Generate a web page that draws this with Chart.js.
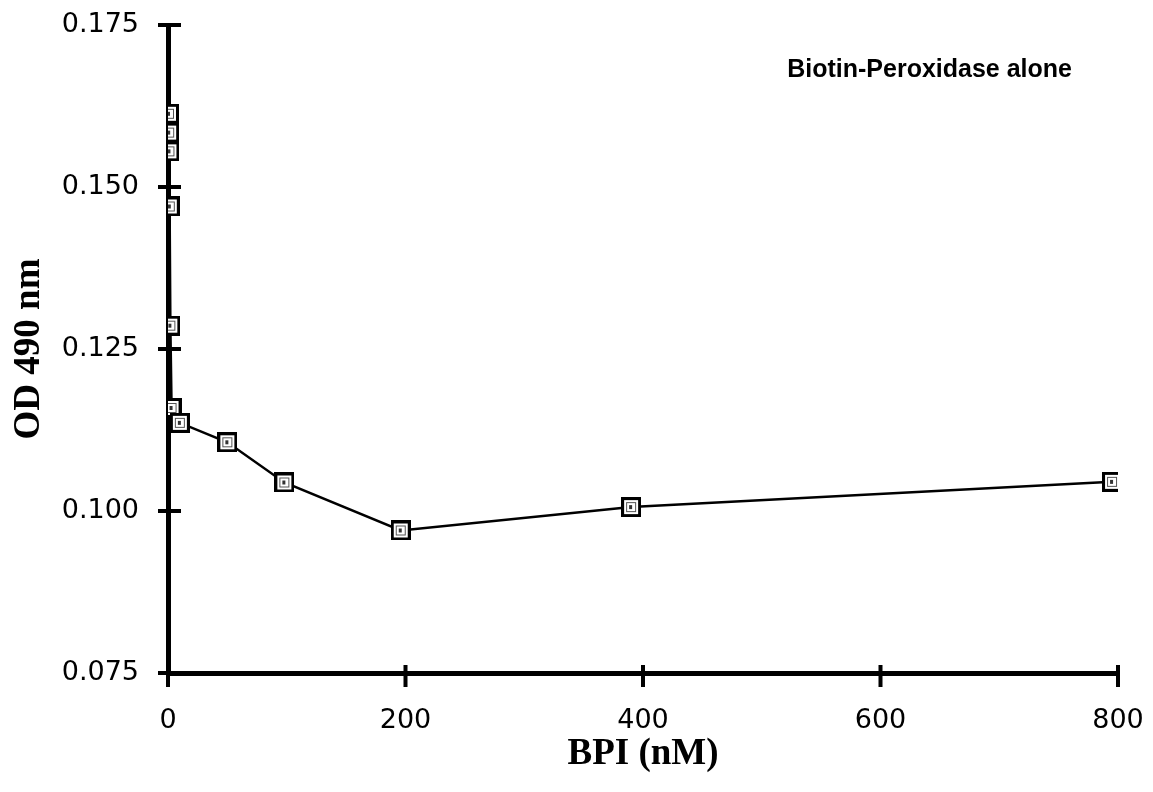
<!DOCTYPE html>
<html>
<head>
<meta charset="utf-8">
<title>BPI (nM) vs OD 490 nm</title>
<script src="https://cdn.jsdelivr.net/npm/chart.js@4.4.1/dist/chart.umd.min.js"></script>
<style>
  html, body { margin: 0; padding: 0; background: #fff; }
  #wrap { width: 1153px; height: 792px; }
</style>
</head>
<body>
<div id="wrap"><canvas id="chart" width="1153" height="792"></canvas></div>
<script>
// BPI concentration (nM) and the OD 490 readings for biotin-peroxidase alone
const bpiNM = [0.8, 1.0, 1.2, 1.5, 2, 3, 10, 50, 98, 196, 390, 795];
const od490 = [0.1613, 0.1584, 0.1555, 0.1470, 0.1286, 0.1159, 0.1136, 0.1106, 0.1044, 0.0970, 0.1006, 0.1045];

const xTicks = [0, 200, 400, 600, 800];
const yTicks = [0.075, 0.100, 0.125, 0.150, 0.175];

const noteText = "Biotin-Peroxidase alone";

// square marker: black frame, white inside, a little dark fleck
function makeMarker() {
    const c = document.createElement("canvas");
    c.width = 20;
    c.height = 20;
    const g = c.getContext("2d");
    g.fillStyle = "#fff";
    g.fillRect(0, 0, 20, 20);
    g.strokeStyle = "#000";
    g.lineWidth = 3;
    g.strokeRect(1.5, 1.5, 17, 17);
    g.lineWidth = 1;
    g.strokeStyle = "#555";
    g.strokeRect(5.5, 5.5, 9, 9);
    g.fillStyle = "#333";
    g.fillRect(8, 8, 3, 4);
    return c;
}

// tick marks that cross the axis lines, plus the note in the corner
const axisExtras = {
    id: "axisExtras",
    afterDraw(chart) {
        const { ctx, chartArea, scales } = chart;
        const xs = scales.x, ys = scales.y;
        ctx.save();
        ctx.strokeStyle = "#000";
        ctx.lineWidth = 4;
        ctx.beginPath();
        ys.ticks.forEach(t => {
            const y = ys.getPixelForValue(t.value);
            ctx.moveTo(chartArea.left - 10, y);
            ctx.lineTo(chartArea.left + 13, y);
        });
        xs.ticks.forEach(t => {
            const x = xs.getPixelForValue(t.value);
            ctx.moveTo(x, chartArea.bottom - 8);
            ctx.lineTo(x, chartArea.bottom + 14);
        });
        ctx.stroke();

        ctx.fillStyle = "#000";
        ctx.font = "bold 25px 'Liberation Sans', Arial, sans-serif";
        ctx.textAlign = "right";
        ctx.textBaseline = "middle";
        ctx.fillText(noteText, chartArea.right - 46, 70);
        ctx.restore();
    }
};

const tickFont = { family: "'DejaVu Sans', sans-serif", size: 27 };
const titleFont = { family: "'Liberation Serif', 'Times New Roman', serif", size: 37, weight: "bold" };

new Chart(document.getElementById("chart"), {
    type: "line",
    data: {
        datasets: [{
            data: bpiNM.map((x, i) => ({ x, y: od490[i] })),
            borderColor: "#000",
            borderWidth: 2.5,
            pointStyle: makeMarker(),
            pointRadius: 10,
            tension: 0,
            fill: false,
        }],
    },
    options: {
        responsive: false,
        animation: false,
        devicePixelRatio: 1,
        layout: { padding: { top: 25, right: 35, bottom: 0, left: 0 } },
        plugins: {
            legend: { display: false },
            tooltip: { enabled: false },
        },
        scales: {
            x: {
                type: "linear",
                min: 0,
                max: 800,
                grid: { display: false },
                border: { display: true, color: "#000", width: 5 },
                afterBuildTicks: s => { s.ticks = xTicks.map(v => ({ value: v })); },
                afterFit: s => { s.height = 119; s.paddingLeft = 0; s.paddingRight = 0; },
                ticks: {
                    color: "#000",
                    font: tickFont,
                    padding: 24,
                    maxRotation: 0,
                    callback: v => String(v),
                },
                title: {
                    display: true,
                    text: "BPI (nM)",
                    color: "#000",
                    font: titleFont,
                    padding: { top: 0, bottom: 15 },
                },
            },
            y: {
                type: "linear",
                min: 0.075,
                max: 0.175,
                grid: { display: false },
                border: { display: true, color: "#000", width: 5 },
                afterBuildTicks: s => { s.ticks = yTicks.map(v => ({ value: v })); },
                afterFit: s => { s.width = 168; s.paddingTop = 0; s.paddingBottom = 0; },
                ticks: {
                    color: "#000",
                    font: tickFont,
                    padding: 21,
                    callback: v => v.toFixed(3),
                },
                title: {
                    display: true,
                    text: "OD 490 nm",
                    color: "#000",
                    font: titleFont,
                    padding: { top: 7, bottom: 0 },
                },
            },
        },
    },
    plugins: [axisExtras],
});
</script>
</body>
</html>
